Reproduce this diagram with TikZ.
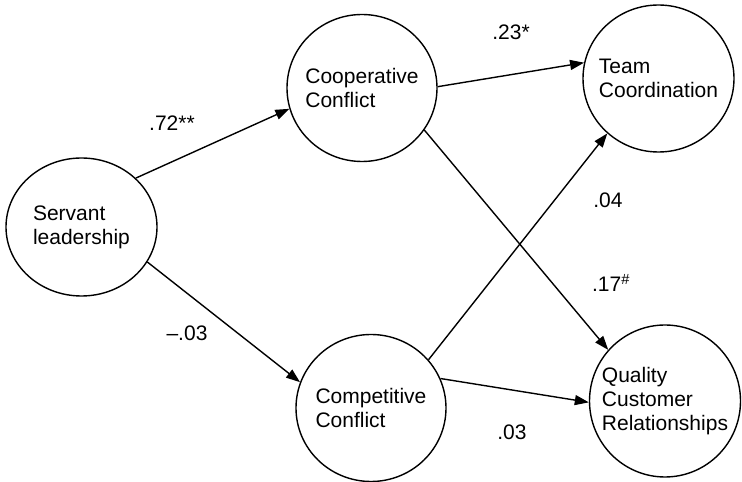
\documentclass[tikz,border=0pt]{standalone}
\usepackage{fontspec}
\setmainfont{Liberation Sans}
\usetikzlibrary{shapes.geometric,arrows.meta}
\begin{document}
\begin{tikzpicture}[x=1pt,y=1pt,
  var/.style={draw, ellipse, line width=1.4pt, inner sep=0pt},
  vtext/.style={align=left, font=\fontsize{21}{24}\selectfont, inner sep=0pt},
  coef/.style={font=\fontsize{21}{24}\selectfont, inner sep=0pt},
  link/.style={line width=1.4pt, -{Triangle[length=14pt,width=10pt]}}]
\useasboundingbox (0,0) rectangle (742,482);
% variables
\node[var, minimum width=151pt, minimum height=138pt] (S) at (81.5,255) {};
\node[var, minimum width=150pt, minimum height=147pt] (C1) at (362,394) {};
\node[var, minimum width=151pt, minimum height=147pt] (T) at (658.5,403.5) {};
\node[var, minimum width=150pt, minimum height=147pt] (C2) at (371,74) {};
\node[var, minimum width=151pt, minimum height=152pt] (Q) at (665,81) {};
\node[vtext] (St) at (S) {Servant\\leadership};
\node[vtext] (C1t) at (C1) {Cooperative\\Conflict};
\node[vtext] (Tt) at (T) {Team\\Coordination};
\node[vtext] (C2t) at (C2) {Competitive\\Conflict};
\node[vtext] (Qt) at (Q) {Quality\\Customer\\Relationships};
% paths
\draw[link] (S.42.5) -- (C1.196);
\draw[link] (S.-28) -- (C2.160);
\draw[link] (C1.1.5) -- (T.168);
\draw[link] (C1.-34) -- (Q.138);
\draw[link] (C2.40) -- (T.227);
\draw[link] (C2.23.5) -- (Q.181.5);
% coefficients
\node[coef] (l1) at (172,359) {.72**};
\node[coef] (l2) at (511,450) {.23*};
\node[coef] (l3) at (187,149) {--.03};
\node[coef] (l4) at (608,282) {.04};
\node[coef] (l5) at (611,199) {.17\textsuperscript{\#}};
\node[coef] (l6) at (512,50) {.03};
\end{tikzpicture}
\end{document}
